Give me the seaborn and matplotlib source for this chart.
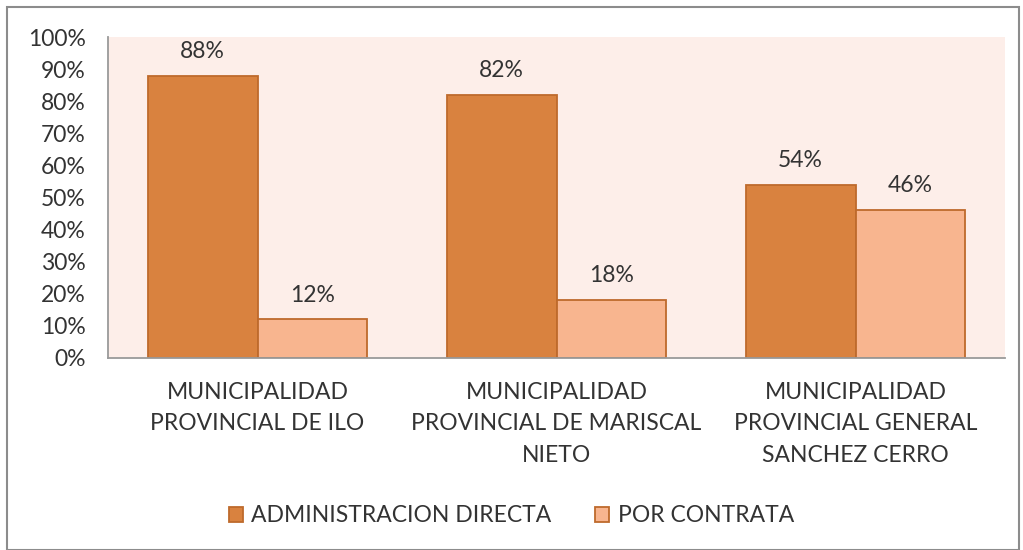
import matplotlib
matplotlib.use("Agg")
import matplotlib.pyplot as plt
import seaborn as sns
import pandas as pd
from matplotlib.patches import Rectangle, Patch

categories = ["MUNICIPALIDAD\nPROVINCIAL DE ILO",
              "MUNICIPALIDAD\nPROVINCIAL DE MARISCAL\nNIETO",
              "MUNICIPALIDAD\nPROVINCIAL GENERAL\nSANCHEZ CERRO"]
series = ["ADMINISTRACION DIRECTA", "POR CONTRATA"]
directa = [88, 82, 54]
contrata = [12, 18, 46]
yticks = [0, 10, 20, 30, 40, 50, 60, 70, 80, 90, 100]

colors = ["#D9823F", "#F8B58F"]
edge = "#BE6A2C"
txt = "#333333"
fs = 16.5

rows = []
for c, d, p in zip(categories, directa, contrata):
    rows.append({"cat": c, "serie": series[0], "val": d})
    rows.append({"cat": c, "serie": series[1], "val": p})
df = pd.DataFrame(rows)

sns.set_theme(style="white")
plt.rcParams['font.family'] = ['Lato', 'DejaVu Sans']

fig = plt.figure(figsize=(10.23, 5.5), dpi=100)
ax = fig.add_axes([108/1023, (550-358)/550, (1005-108)/1023, (358-37)/550])
ax.set_facecolor("#FDEEE9")

sns.barplot(data=df, x="cat", y="val", hue="serie", palette=colors, width=0.733,
            edgecolor=edge, linewidth=1.3, ax=ax, legend=False, saturation=1)

for cont in ax.containers:
    labels = [f"{int(round(v))}%" for v in cont.datavalues]
    ax.bar_label(cont, labels=labels, padding=10, fontsize=fs, color=txt)

ax.set_ylim(0, 100)
ax.set_xlim(-0.5, 2.5)
ax.set_yticks(yticks)
ax.set_yticklabels([f"{t}%" for t in yticks], fontsize=fs, color=txt)
ax.tick_params(axis='x', labelsize=fs, colors=txt, pad=17, length=0)
ax.tick_params(axis='y', length=0, pad=16)
for lbl in ax.get_xticklabels():
    lbl.set_linespacing(1.62)
ax.set_xlabel("")
ax.set_ylabel("")
for s in ["top", "right"]:
    ax.spines[s].set_visible(False)
for s in ["left", "bottom"]:
    ax.spines[s].set_color("#9A9A9A")
    ax.spines[s].set_linewidth(1.3)

handles = [Patch(facecolor=colors[i], edgecolor=edge, linewidth=1.3, label=series[i]) for i in range(2)]
fig.legend(handles=handles, loc="center", bbox_to_anchor=(0.5, 1 - 516/550), ncol=2,
           frameon=False, fontsize=fs, handlelength=0.62, handleheight=0.62,
           handletextpad=0.35, columnspacing=1.9, labelcolor=txt)

fig.patches.append(Rectangle((7/1023, 0), (1019-7)/1023, 1 - 7/550, transform=fig.transFigure,
                             fill=False, edgecolor="#8C8C8C", linewidth=1.5))

fig.savefig("out.png", dpi=100, facecolor="white")
